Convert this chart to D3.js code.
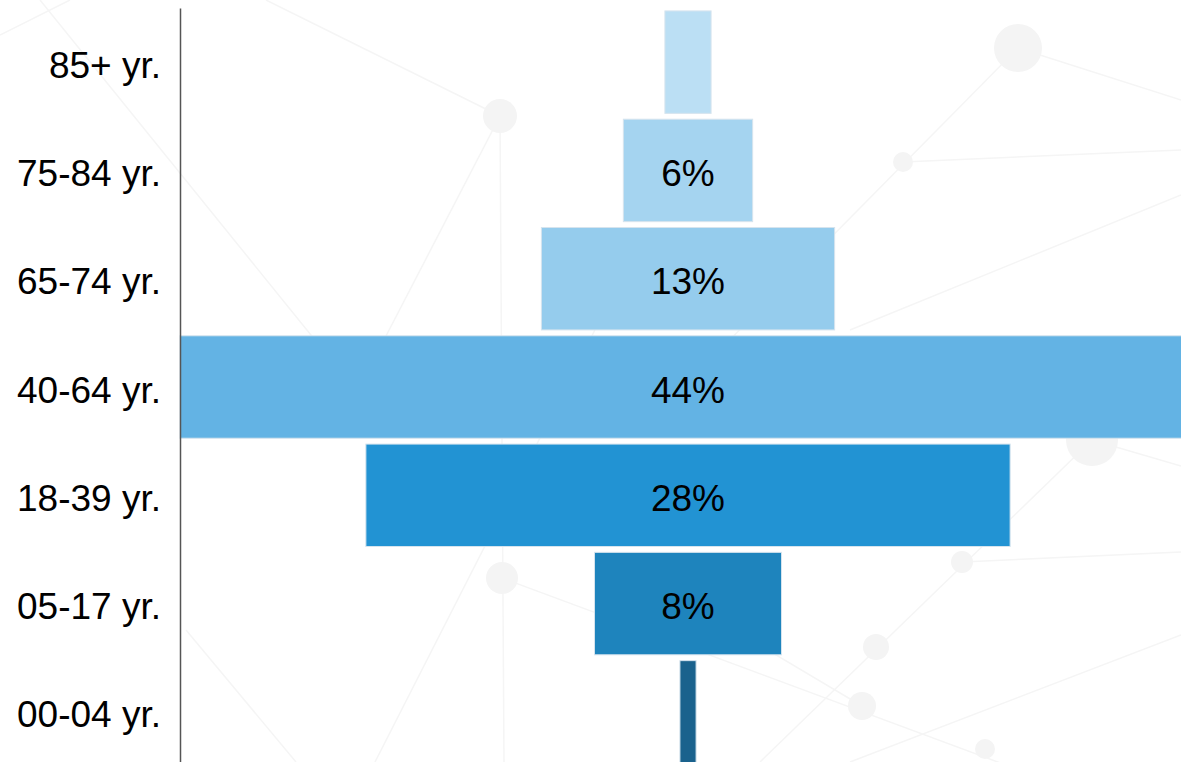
<!DOCTYPE html>
<html>
<head>
<meta charset="utf-8">
<script src="https://cdn.jsdelivr.net/npm/d3@7"></script>
<style>
  html, body { margin: 0; padding: 0; background: #fff; }
  svg { display: block; font-family: "Liberation Sans", Arial, sans-serif; }
</style>
</head>
<body>
<svg id="svg_age_funnel" width="1181" height="762"></svg>
<script>
// data, top row first
const ageGroups = ['85+ yr.', '75-84 yr.', '65-74 yr.', '40-64 yr.', '18-39 yr.', '05-17 yr.', '00-04 yr.'];
const sharePct = [2.0, 5.6, 12.7, 44.0, 27.9, 8.1, 0.7];
const barColors = ['#bbdff4', '#a5d4f0', '#95cced', '#63b3e4', '#2293d3', '#1e84bd', '#1a628d'];

// faint network decoration behind the chart
const bgNodes = [
  [1018, 48, 24], [903, 162, 10], [500, 116, 17], [1092, 440, 26], [962, 562, 11],
  [876, 647, 13], [862, 706, 14], [985, 749, 10], [502, 578, 16]
];
const bgLinks = [
  [1018, 48, 1200, 106], [1018, 48, 700, 370], [903, 162, 1181, 150], [1181, 195, 850, 330],
  [500, 116, 266, 0], [500, 116, 386, 336], [500, 116, 504, 762], [40, 0, 315, 340],
  [186, 630, 296, 762], [375, 762, 600, 320], [502, 578, 1181, 830], [700, 610, 862, 706],
  [850, 762, 1181, 635], [1092, 440, 760, 762], [962, 562, 1181, 552], [1092, 440, 1181, 466],
  [0, 35, 70, 0]
];

const width = 1181;
const height = 762;
const axisX = 180;
const centerX = 688;

const svg = d3.select('#svg_age_funnel');

const bg = svg.append('g');
bg.selectAll('line')
  .data(bgLinks)
  .enter()
  .append('line')
  .attr('x1', (d) => d[0]).attr('y1', (d) => d[1])
  .attr('x2', (d) => d[2]).attr('y2', (d) => d[3])
  .attr('stroke', '#f5f5f5')
  .attr('stroke-width', 1.5);
bg.selectAll('circle')
  .data(bgNodes)
  .enter()
  .append('circle')
  .attr('cx', (d) => d[0]).attr('cy', (d) => d[1]).attr('r', (d) => d[2])
  .attr('fill', '#f4f4f4');

const yscale = d3.scaleBand()
  .domain(ageGroups)
  .range([8, 766])
  .paddingInner(0.054)
  .paddingOuter(0.027);

const wscale = d3.scaleLinear()
  .domain([0, 44])
  .range([0, 1016]);

const rows = ageGroups.map((name, i) => ({ name, value: sharePct[i], color: barColors[i] }));

svg.append('g')
  .selectAll('rect')
  .data(rows)
  .enter()
  .append('rect')
  .attr('x', (d) => centerX - wscale(d.value) / 2)
  .attr('y', (d) => yscale(d.name))
  .attr('width', (d) => wscale(d.value))
  .attr('height', yscale.bandwidth())
  .attr('fill', (d) => d.color)
  .attr('stroke', '#d6e4ee')
  .attr('stroke-width', 1);

svg.append('g')
  .selectAll('text')
  .data(rows.filter((d) => wscale(d.value) > 70))
  .enter()
  .append('text')
  .attr('x', centerX)
  .attr('y', (d) => yscale(d.name) + yscale.bandwidth() / 2)
  .attr('dy', '0.42em')
  .attr('text-anchor', 'middle')
  .attr('font-size', 37)
  .attr('fill', '#000')
  .text((d) => Math.round(d.value) + '%');

const leftAxis = d3.axisLeft(yscale).tickSize(0).tickSizeOuter(0).tickPadding(19);
const axisG = svg.append('g')
  .attr('transform', `translate(${axisX}, 0)`)
  .call(leftAxis);
axisG.select('.domain').attr('stroke', '#555').attr('stroke-width', 1.5);
axisG.selectAll('text')
  .attr('dy', '0.42em')
  .attr('font-size', 37)
  .attr('font-family', '"Liberation Sans", Arial, sans-serif')
  .attr('fill', '#000');
</script>
</body>
</html>
